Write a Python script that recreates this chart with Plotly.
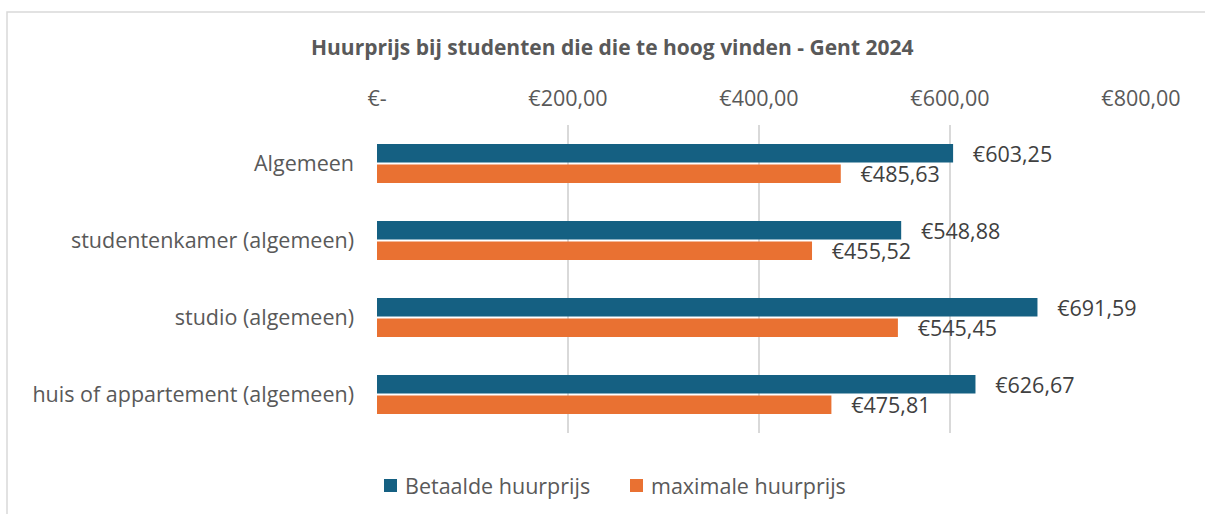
import plotly.graph_objects as go

categories = ["Algemeen", "studentenkamer (algemeen)", "studio (algemeen)", "huis of appartement (algemeen)"]
betaalde = [603.25, 548.88, 691.59, 626.67]
maximale = [485.63, 455.52, 545.45, 475.81]
tick_vals = [0, 200, 400, 600, 800]
tick_text = ["€-", "€200,00", "€400,00", "€600,00", "€800,00"]
series_names = ["Betaalde huurprijs", "maximale huurprijs"]
colors = ["#156082", "#E97132"]
title = "Huurprijs bij studenten die die te hoog vinden - Gent 2024"

FONT = "Open Sans"
TXT = "#595959"
FS = 21.5

def fmt(v):
    return "   €" + f"{v:.2f}".replace(".", ",")

fig = go.Figure()
for name, vals, col in zip(series_names, [betaalde, maximale], colors):
    fig.add_trace(go.Bar(
        y=categories, x=vals, orientation="h", name=name,
        marker=dict(color=col, line=dict(width=0)),
        text=[fmt(v) for v in vals], textposition="outside",
        textfont=dict(family=FONT, size=FS, color="#404040"),
        constraintext="none", cliponaxis=False, hoverinfo="skip",
        showlegend=False,
    ))

L, R, T, B = 377, 64, 125, 81
W, H = 1205, 514
pw, ph = W - L - R, H - T - B

def px_x(x):
    return (x - L) / pw

def px_y(y):
    return (H - B - y) / ph

# manual legend (squares + labels)
legend_sq_x = [384, 630]
shapes = [dict(type="rect", xref="paper", yref="paper",
               x0=px_x(7), x1=px_x(1230), y0=px_y(540), y1=px_y(12),
               line=dict(color="#D9D9D9", width=1.5), fillcolor="rgba(0,0,0,0)", layer="below")]
annotations = [dict(text="<b>" + title + "</b>", x=px_x(612), y=px_y(47), xref="paper", yref="paper",
                    showarrow=False, xanchor="center", yanchor="middle",
                    font=dict(family=FONT, size=21, color=TXT))]
for sx, name, col in zip(legend_sq_x, series_names, colors):
    shapes.append(dict(type="rect", xref="paper", yref="paper",
                       x0=px_x(sx), x1=px_x(sx + 13), y0=px_y(492), y1=px_y(479),
                       line=dict(width=0), fillcolor=col))
    annotations.append(dict(text=name, x=px_x(sx + 19), y=px_y(485), xref="paper", yref="paper",
                            showarrow=False, xanchor="left", yanchor="middle",
                            font=dict(family=FONT, size=FS, color=TXT)))

fig.update_layout(
    width=W, height=H,
    margin=dict(l=L, r=R, t=T, b=B),
    paper_bgcolor="white", plot_bgcolor="white",
    barmode="group", bargap=0.47, bargroupgap=0.1,
    font=dict(family=FONT, color=TXT, size=FS),
    showlegend=False,
    xaxis=dict(side="top", range=[0, 800], tickvals=tick_vals, ticktext=tick_text,
               showgrid=True, gridcolor="#D9D9D9", gridwidth=1.5, zeroline=False,
               showline=False, ticks="", ticklabelstandoff=14,
               tickfont=dict(family=FONT, size=FS, color=TXT), fixedrange=True),
    yaxis=dict(autorange="reversed", showgrid=False, ticks="", showline=False,
               ticklabelstandoff=22, tickfont=dict(family=FONT, size=FS, color=TXT)),
    annotations=annotations,
    shapes=shapes,
)

fig.write_html("out.html", config={"displayModeBar": False},
               post_script="document.body.style.margin='0';document.body.style.overflow='hidden';")
